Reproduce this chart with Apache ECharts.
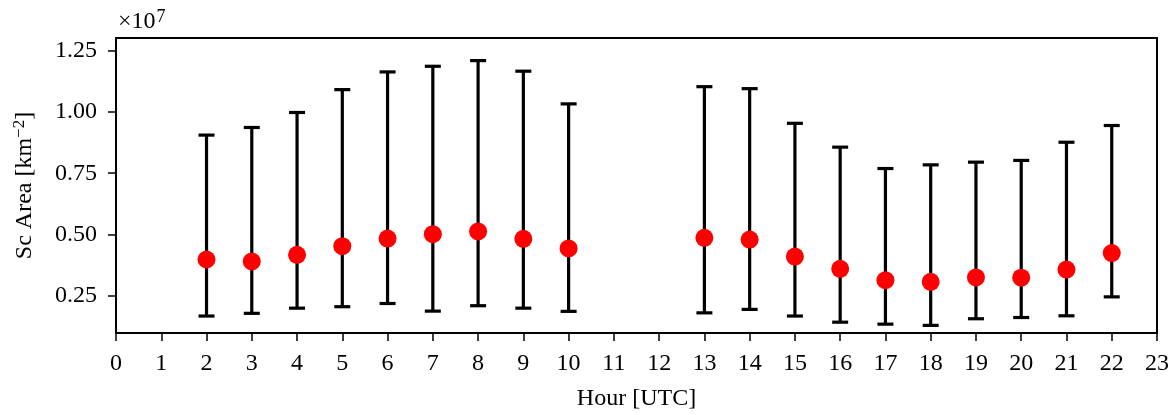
<!DOCTYPE html>
<html>
<head>
<meta charset="utf-8">
<title>Sc Area by hour</title>
<script src="https://cdn.jsdelivr.net/npm/echarts@6/dist/echarts.min.js"></script>
<style>
  html, body { margin: 0; padding: 0; background: #fff; }
  #chart { width: 1176px; height: 415px; }
</style>
</head>
<body>
<div id="chart"></div>
<script>
// values are in units of 1e7 km^-2
const hours = [2, 3, 4, 5, 6, 7, 8, 9, 10, 13, 14, 15, 16, 17, 18, 19, 20, 21, 22]
const meanArea = [0.399, 0.391, 0.418, 0.453, 0.484, 0.502, 0.513, 0.483, 0.444,
  0.487, 0.480, 0.411, 0.361, 0.315, 0.308, 0.326, 0.325, 0.358, 0.425]
const lowerArea = [0.169, 0.180, 0.201, 0.207, 0.220, 0.189, 0.211, 0.201, 0.188,
  0.182, 0.196, 0.169, 0.144, 0.136, 0.131, 0.158, 0.163, 0.170, 0.247]
const upperArea = [0.905, 0.936, 0.997, 1.090, 1.162, 1.185, 1.208, 1.165, 1.032,
  1.102, 1.094, 0.953, 0.856, 0.769, 0.784, 0.795, 0.802, 0.876, 0.944]
const yTicks = [0.25, 0.5, 0.75, 1.0, 1.25]

const FONT = '"Liberation Serif", "DejaVu Serif", serif'
const FS = 24

const chart = echarts.init(document.getElementById('chart'), null, { renderer: 'canvas' })

const frameAxis = {
  axisLine: { show: true, onZero: false, lineStyle: { color: '#000', width: 2 } },
  axisTick: { show: false },
  axisLabel: { show: false },
  splitLine: { show: false }
}

const option = {
  animation: false,
  grid: {
    left: 116,
    right: 19,
    top: 38,
    bottom: 82,
    outerBoundsMode: 'none'
  },
  graphic: [
    {
      type: 'text',
      left: 118,
      top: 8,
      style: {
        text: '×10{sup|7}',
        font: FS + 'px ' + FONT,
        fill: '#000',
        rich: {
          sup: { fontSize: 18, fontFamily: FONT, verticalAlign: 'top', padding: [0, 0, 10, 1] }
        }
      }
    }
  ],
  xAxis: [
    {
      type: 'value',
      min: 0,
      max: 23,
      interval: 1,
      name: 'Hour [UTC]',
      nameLocation: 'middle',
      nameGap: 54,
      nameTextStyle: { fontFamily: FONT, fontSize: FS, color: '#000' },
      axisLine: { show: true, onZero: false, lineStyle: { color: '#000', width: 2 } },
      axisTick: { show: true, length: 8, lineStyle: { color: '#000', width: 1.5 } },
      axisLabel: { margin: 19, fontFamily: FONT, fontSize: FS, color: '#000' },
      splitLine: { show: false }
    },
    Object.assign({ type: 'value', position: 'top', min: 0, max: 23 }, frameAxis)
  ],
  yAxis: [
    {
      type: 'value',
      min: 0.1,
      max: 1.3,
      name: 'Sc Area [km{sup|−2}]',
      nameLocation: 'middle',
      nameGap: 78,
      nameRotate: 90,
      nameTextStyle: {
        fontFamily: FONT,
        fontSize: FS,
        color: '#000',
        rich: {
          sup: { fontFamily: FONT, fontSize: 17, verticalAlign: 'top', padding: [0, 0, 10, 0] }
        }
      },
      axisLine: { show: true, onZero: false, lineStyle: { color: '#000', width: 2 } },
      axisTick: { show: true, length: 8, customValues: yTicks, lineStyle: { color: '#000', width: 1.5 } },
      axisLabel: {
        margin: 19,
        customValues: yTicks,
        fontFamily: FONT,
        fontSize: FS,
        color: '#000',
        formatter: v => v.toFixed(2)
      },
      splitLine: { show: false }
    },
    Object.assign({ type: 'value', position: 'right', min: 0.1, max: 1.3 }, frameAxis)
  ],
  series: [
    {
      type: 'custom',
      name: 'range',
      data: hours.map((h, i) => [h, lowerArea[i], upperArea[i]]),
      encode: { x: 0, y: [1, 2] },
      z: 2,
      renderItem: function (params, api) {
        const x = api.value(0)
        const lo = api.coord([x, api.value(1)])
        const hi = api.coord([x, api.value(2)])
        const half = 8
        const style = { stroke: '#000', lineWidth: 3.2, fill: null }
        return {
          type: 'group',
          children: [
            { type: 'line', shape: { x1: lo[0], y1: lo[1], x2: hi[0], y2: hi[1] }, style: style },
            { type: 'line', shape: { x1: lo[0] - half, y1: lo[1], x2: lo[0] + half, y2: lo[1] }, style: style },
            { type: 'line', shape: { x1: hi[0] - half, y1: hi[1], x2: hi[0] + half, y2: hi[1] }, style: style }
          ]
        }
      }
    },
    {
      type: 'scatter',
      name: 'mean',
      data: hours.map((h, i) => [h, meanArea[i]]),
      symbol: 'circle',
      symbolSize: 18,
      z: 3,
      itemStyle: { color: '#ff0000', opacity: 1 }
    }
  ]
}

chart.setOption(option)
</script>
</body>
</html>
